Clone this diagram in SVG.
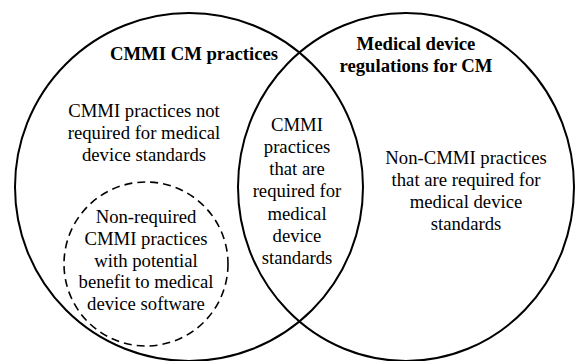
<svg xmlns="http://www.w3.org/2000/svg" width="578" height="361" viewBox="0 0 578 361">
<style>
.c{fill:none;stroke:#000;stroke-width:2}
.d{fill:none;stroke:#000;stroke-width:1.6;stroke-dasharray:8 5}
text{font-family:"Liberation Serif","Times New Roman",serif;font-size:18.7px;fill:#000;text-anchor:middle}
.b{font-weight:bold}
</style>
<rect width="578" height="361" fill="#fff"/>
<g id="cmmi">
<circle class="c" cx="189" cy="187" r="174"/>
<text class="b" x="194" y="60">CMMI CM practices</text>
</g>
<g id="regulations">
<ellipse class="c" cx="406" cy="187" rx="168" ry="174"/>
<text class="b"><tspan x="416" y="50">Medical device</tspan><tspan x="416" y="72">regulations for CM</tspan></text>
</g>
<g id="not-required">
<text><tspan x="144" y="117">CMMI practices not</tspan><tspan x="144" y="139">required for medical</tspan><tspan x="144" y="161">device standards</tspan></text>
</g>
<g id="intersection">
<text><tspan x="297" y="131">CMMI</tspan><tspan x="297" y="153">practices</tspan><tspan x="297" y="175">that are</tspan><tspan x="297" y="197">required for</tspan><tspan x="297" y="220">medical</tspan><tspan x="297" y="242">device</tspan><tspan x="297" y="264">standards</tspan></text>
</g>
<g id="non-cmmi">
<text><tspan x="466" y="164">Non-CMMI practices</tspan><tspan x="466" y="186">that are required for</tspan><tspan x="466" y="208">medical device</tspan><tspan x="466" y="230">standards</tspan></text>
</g>
<g id="potential-benefit">
<circle class="d" cx="146" cy="264" r="82"/>
<text><tspan x="146" y="223">Non-required</tspan><tspan x="146" y="245">CMMI practices</tspan><tspan x="146" y="267">with potential</tspan><tspan x="146" y="288">benefit to medical</tspan><tspan x="146" y="310">device software</tspan></text>
</g>
<g id="connectors"></g>
</svg>
